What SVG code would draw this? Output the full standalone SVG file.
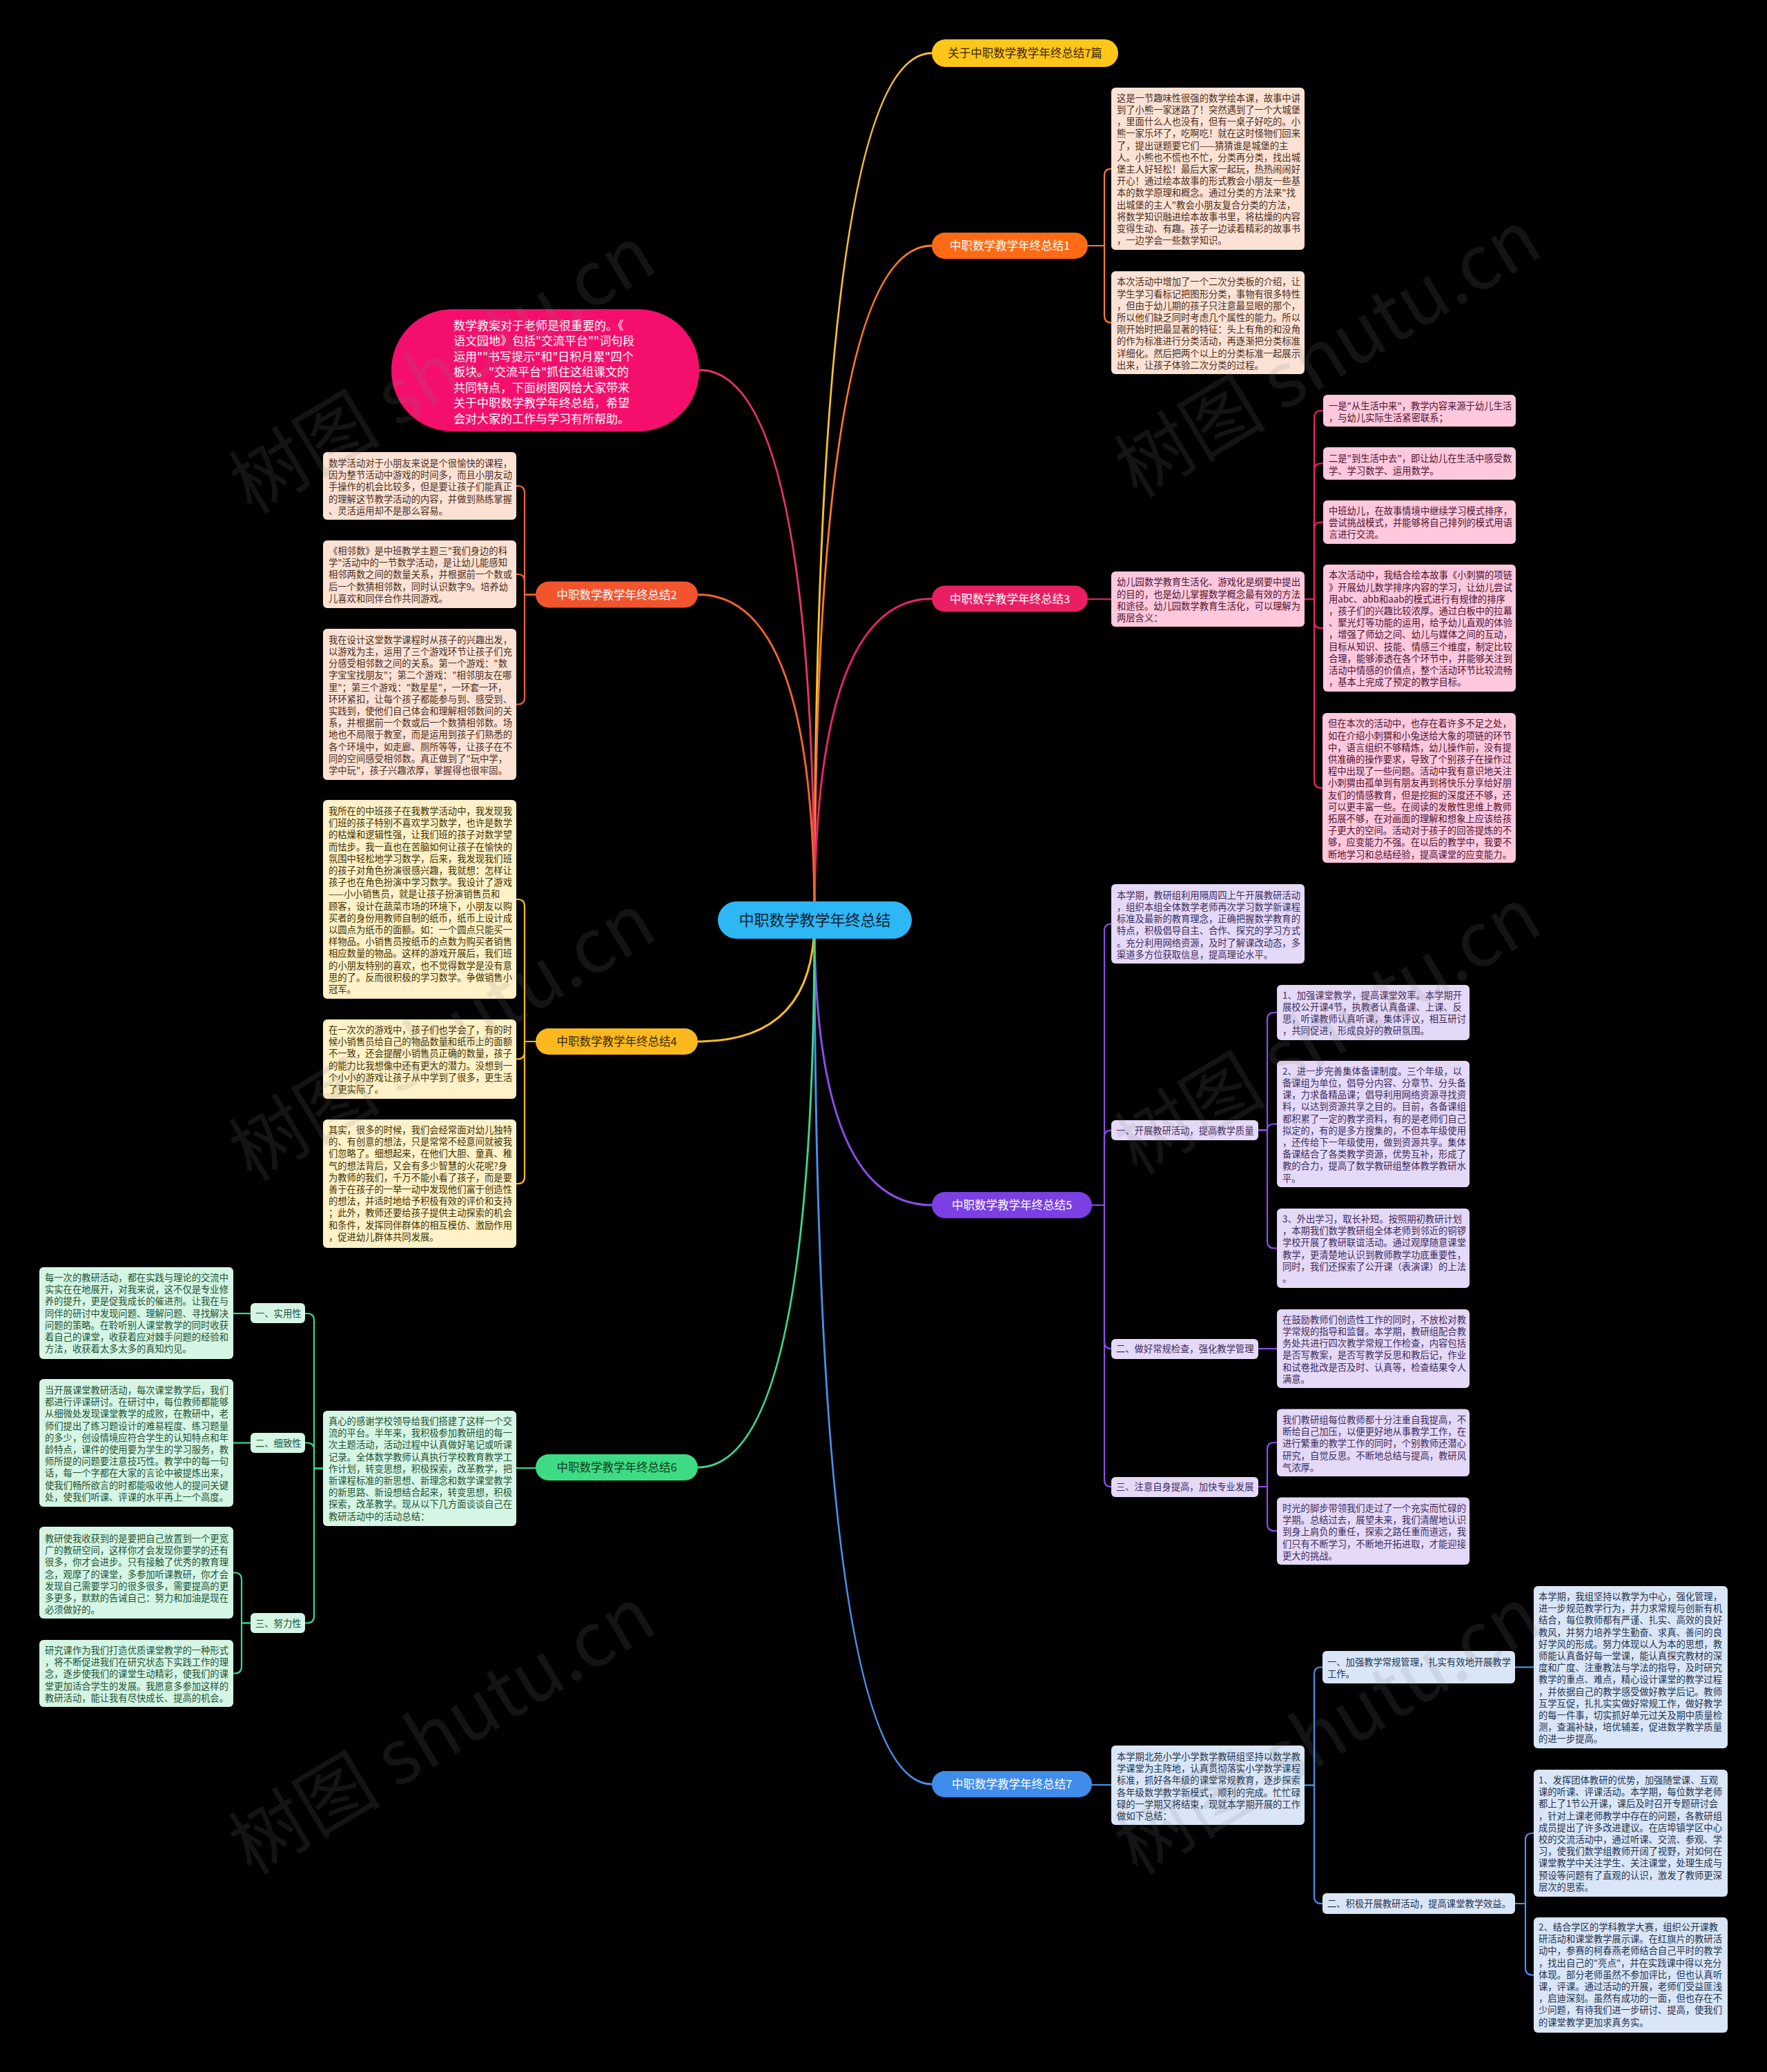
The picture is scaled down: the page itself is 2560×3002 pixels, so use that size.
<svg xmlns="http://www.w3.org/2000/svg" width="2560" height="3002" viewBox="0 0 2560 3002">
<defs>
<style>
text{font-family:"Noto Sans CJK SC","Noto Sans",sans-serif;}
.bx{font-size:13.3px;}
.mn{font-size:16.5px;text-anchor:middle;}
.wm{font-family:"Liberation Serif","Noto Sans CJK SC",serif;font-size:110px;fill:#808080;opacity:.16;text-anchor:middle;}
.lk{fill:none;stroke-width:2.2;}
.br{fill:none;stroke-width:3;}
.pe rect{fill:#FCE2D4;} .pe text{fill:#4B2E22;}
.pk rect{fill:#FFC8DD;} .pk text{fill:#4D1430;}
.ye rect{fill:#FFF1C8;} .ye text{fill:#3F3200;}
.gr rect{fill:#D5F6E4;} .gr text{fill:#1F5236;}
.lv rect{fill:#E5D9F8;} .lv text{fill:#3B2D5C;}
.bl rect{fill:#D9E6F7;} .bl text{fill:#1F3350;}
</style>
</defs>
<rect width="2560" height="3002" fill="#000"/>

<g id="connectors">
<g class="br">
<path d="M1180,1333 Q1180,77 1350,77" stroke="#F9C22E"/>
<path d="M1180,1333 Q1180,356 1350,356" stroke="#FF7A28"/>
<path d="M1180,1333 Q1180,867.5 1350,867.5" stroke="#E8246C"/>
<path d="M1180,1333 Q1180,1746 1350,1746" stroke="#8A4FE8"/>
<path d="M1180,1333 Q1180,2585 1350,2585" stroke="#4A8FE8"/>
<path d="M1180,1333 Q1180,536 1013,536" stroke="#E8336A"/>
<path d="M1180,1333 Q1180,861.5 1011,861.5" stroke="#F26430"/>
<path d="M1180,1333 Q1180,1509 1011,1509" stroke="#F7BB22"/>
<path d="M1180,1333 Q1180,2126 1011,2126" stroke="#3DD68C"/>
</g>
<g class="lk" stroke="#FF7A28">
<path d="M1576,356 H1600 V254.5 Q1600,244.5 1610,244.5"/>
<path d="M1576,356 H1600 V457.5 Q1600,467.5 1610,467.5"/>
</g>
<g class="lk" stroke="#E8246C">
<path d="M1576,868 H1610"/>
<path d="M1890,868 H1904 V605 Q1904,595 1914,595 H1917"/>
<path d="M1890,868 H1904 V681.5 Q1904,671.5 1914,671.5 H1917"/>
<path d="M1890,868 H1904 V766.5 Q1904,756.5 1914,756.5 H1917"/>
<path d="M1890,868 H1904 V900 Q1904,910 1914,910 H1917"/>
<path d="M1890,868 H1904 V1131.5 Q1904,1141.5 1914,1141.5 H1917"/>
</g>
<g class="lk" stroke="#8A4FE8">
<path d="M1582,1746 H1600 V1348.5 Q1600,1338.5 1610,1338.5"/>
<path d="M1582,1746 H1600 V1647.5 Q1600,1637.5 1610,1637.5"/>
<path d="M1582,1746 H1600 V1944 Q1600,1954 1610,1954"/>
<path d="M1582,1746 H1600 V2144 Q1600,2154 1610,2154"/>
<path d="M1823,1637.5 H1836 V1477 Q1836,1467 1846,1467 H1850"/>
<path d="M1823,1637.5 H1836 Q1836,1628.5 1845,1628.5 H1850"/>
<path d="M1823,1637.5 H1836 V1798.5 Q1836,1808.5 1846,1808.5 H1850"/>
<path d="M1823,1954 H1850"/>
<path d="M1823,2154 H1836 V2100 Q1836,2090 1846,2090 H1850"/>
<path d="M1823,2154 H1836 V2208 Q1836,2218 1846,2218 H1850"/>
</g>
<g class="lk" stroke="#4A8FE8">
<path d="M1582,2586 H1610"/>
<path d="M1890,2586.5 H1904 V2425.5 Q1904,2415.5 1914,2415.5 H1916"/>
<path d="M1890,2586.5 H1904 V2748 Q1904,2758 1914,2758 H1916"/>
<path d="M2195,2415.5 H2222"/>
<path d="M2195,2758 H2210 V2666 Q2210,2656 2220,2656 H2222"/>
<path d="M2195,2758 H2210 V2851.5 Q2210,2861.5 2220,2861.5 H2222"/>
</g>
<g class="lk" stroke="#F26430">
<path d="M776,861.5 H760 V714 Q760,704 750,704 H748"/>
<path d="M776,861.5 H760 V842 Q760,832 750,832 H748"/>
<path d="M776,861.5 H760 V1010.5 Q760,1020.5 750,1020.5 H748"/>
</g>
<g class="lk" stroke="#F7BB22">
<path d="M776,1509 H760 V1313 Q760,1303 750,1303 H748"/>
<path d="M776,1509 H760 V1524.5 Q760,1534.5 750,1534.5 H748"/>
<path d="M776,1509 H760 V1705 Q760,1715 750,1715 H748"/>
</g>
<g class="lk" stroke="#3DD68C">
<path d="M776,2127 H748"/>
<path d="M468,2127.5 H455 V1913 Q455,1903 445,1903 H442"/>
<path d="M468,2127.5 H455 V2100.5 Q455,2090.5 445,2090.5 H442"/>
<path d="M468,2127.5 H455 V2341.5 Q455,2351.5 445,2351.5 H442"/>
<path d="M363,1903 H338"/>
<path d="M363,2090.5 H338"/>
<path d="M363,2351.5 H350 V2288.5 Q350,2278.5 340,2278.5 H338"/>
<path d="M363,2351.5 H350 V2414.5 Q350,2424.5 340,2424.5 H338"/>
</g>
</g>

<g id="center"><rect x="1040" y="1306" width="281" height="54" rx="27" fill="#2DB7F5"/><text x="1180.5" y="1341" font-size="22" text-anchor="middle" fill="#10202E">中职数学教学年终总结</text></g>
<g id="title"><rect x="1350" y="57" width="270" height="40" rx="20" fill="#FFC61A"/><text class="mn" x="1485" y="83" fill="#3A2500">关于中职数学教学年终总结7篇</text></g>
<g id="n1"><rect x="1350" y="337" width="226" height="38" rx="19" fill="#FF6B14"/><text class="mn" x="1463" y="362" fill="#fff">中职数学教学年终总结1</text></g>
<g id="n3"><rect x="1350" y="848.5" width="226" height="38" rx="19" fill="#E91E63"/><text class="mn" x="1463" y="873.5" fill="#fff">中职数学教学年终总结3</text></g>
<g id="n5"><rect x="1350" y="1727" width="232" height="38" rx="19" fill="#7B3FE4"/><text class="mn" x="1466" y="1752" fill="#fff">中职数学教学年终总结5</text></g>
<g id="n7"><rect x="1350" y="2566" width="232" height="38" rx="19" fill="#3F8CEB"/><text class="mn" x="1466" y="2591" fill="#fff">中职数学教学年终总结7</text></g>
<g id="n2"><rect x="776" y="842.5" width="235" height="38" rx="19" fill="#F2542D"/><text class="mn" x="893.5" y="867.5" fill="#fff">中职数学教学年终总结2</text></g>
<g id="n4"><rect x="776" y="1490" width="235" height="38" rx="19" fill="#FBB91F"/><text class="mn" x="893.5" y="1515" fill="#3A2A00">中职数学教学年终总结4</text></g>
<g id="n6"><rect x="776" y="2107" width="235" height="38" rx="19" fill="#3DDC84"/><text class="mn" x="893.5" y="2132" fill="#0E3A22">中职数学教学年终总结6</text></g>

<g id="note"><rect x="567" y="448" width="446" height="177" rx="88" fill="#F50F6C"/><text font-size="17" fill="#fff"><tspan x="657" y="477.7">数学教案对于老师是很重要的。《</tspan><tspan x="657" dy="22.5">语文园地》包括"交流平台""词句段</tspan><tspan x="657" dy="22.5">运用""书写提示"和"日积月累"四个</tspan><tspan x="657" dy="22.5">板块。"交流平台"抓住这组课文的</tspan><tspan x="657" dy="22.5">共同特点，下面树图网给大家带来</tspan><tspan x="657" dy="22.5">关于中职数学教学年终总结，希望</tspan><tspan x="657" dy="22.5">会对大家的工作与学习有所帮助。</tspan></text></g>

<g id="n1-1" class="pe"><rect x="1610" y="127" width="280" height="235" rx="6"/><text class="bx"><tspan x="1618" y="146.7">这是一节趣味性很强的数学绘本课，故事中讲</tspan><tspan x="1618" dy="17.2">到了小熊一家迷路了！突然遇到了一个大城堡</tspan><tspan x="1618" dy="17.2">，里面什么人也没有，但有一桌子好吃的。小</tspan><tspan x="1618" dy="17.2">熊一家乐坏了，吃啊吃！就在这时怪物们回来</tspan><tspan x="1618" dy="17.2">了，提出谜题要它们——猜猜谁是城堡的主</tspan><tspan x="1618" dy="17.2">人。小熊也不慌也不忙，分类再分类，找出城</tspan><tspan x="1618" dy="17.2">堡主人好轻松！最后大家一起玩，热热闹闹好</tspan><tspan x="1618" dy="17.2">开心！通过绘本故事的形式教会小朋友一些基</tspan><tspan x="1618" dy="17.2">本的数学原理和概念。通过分类的方法来"找</tspan><tspan x="1618" dy="17.2">出城堡的主人"教会小朋友复合分类的方法，</tspan><tspan x="1618" dy="17.2">将数学知识融进绘本故事书里，将枯燥的内容</tspan><tspan x="1618" dy="17.2">变得生动、有趣。孩子一边读着精彩的故事书</tspan><tspan x="1618" dy="17.2">，一边学会一些数学知识。</tspan></text></g>
<g id="n1-2" class="pe"><rect x="1610" y="393" width="280" height="149" rx="6"/><text class="bx"><tspan x="1618" y="413.3">本次活动中增加了一个二次分类板的介绍，让</tspan><tspan x="1618" dy="17.2">学生学习看标记把图形分类，事物有很多特性</tspan><tspan x="1618" dy="17.2">，但由于幼儿期的孩子只注意最显眼的那个，</tspan><tspan x="1618" dy="17.2">所以他们缺乏同时考虑几个属性的能力。所以</tspan><tspan x="1618" dy="17.2">刚开始时把最显著的特征：头上有角的和没角</tspan><tspan x="1618" dy="17.2">的作为标准进行分类活动，再逐渐把分类标准</tspan><tspan x="1618" dy="17.2">详细化。然后把两个以上的分类标准一起展示</tspan><tspan x="1618" dy="17.2">出来，让孩子体验二次分类的过程。</tspan></text></g>

<g id="n3-0" class="pk"><rect x="1610" y="828" width="280" height="80" rx="6"/><text class="bx"><tspan x="1618" y="848.3">幼儿园数学教育生活化、游戏化是纲要中提出</tspan><tspan x="1618" dy="17.2">的目的，也是幼儿掌握数学概念最有效的方法</tspan><tspan x="1618" dy="17.2">和途径。幼儿园数学教育生活化，可以理解为</tspan><tspan x="1618" dy="17.2">两层含义：</tspan></text></g>
<g id="n3-1" class="pk"><rect x="1917" y="572" width="279" height="46" rx="6"/><text class="bx"><tspan x="1925" y="592.7">一是"从生活中来"，教学内容来源于幼儿生活</tspan><tspan x="1925" dy="17.2">，与幼儿实际生活紧密联系；</tspan></text></g>
<g id="n3-2" class="pk"><rect x="1917" y="648" width="279" height="47" rx="6"/><text class="bx"><tspan x="1925" y="669.3">二是"到生活中去"，即让幼儿在生活中感受数</tspan><tspan x="1925" dy="17.2">学、学习数学、运用数学。</tspan></text></g>
<g id="n3-3" class="pk"><rect x="1917" y="725" width="279" height="63" rx="6"/><text class="bx"><tspan x="1925" y="745">中班幼儿，在故事情境中继续学习模式排序，</tspan><tspan x="1925" dy="17.2">尝试挑战模式，并能够将自己排列的模式用语</tspan><tspan x="1925" dy="17.2">言进行交流。</tspan></text></g>
<g id="n3-4" class="pk"><rect x="1917" y="818" width="279" height="184" rx="6"/><text class="bx"><tspan x="1925" y="838.3">本次活动中，我结合绘本故事《小刺猬的项链</tspan><tspan x="1925" dy="17.2">》开展幼儿数学排序内容的学习，让幼儿尝试</tspan><tspan x="1925" dy="17.2">用abc、abb和aab的模式进行有规律的排序</tspan><tspan x="1925" dy="17.2">，孩子们的兴趣比较浓厚。通过白板中的拉幕</tspan><tspan x="1925" dy="17.2">、聚光灯等功能的运用，给予幼儿直观的体验</tspan><tspan x="1925" dy="17.2">，增强了师幼之间、幼儿与媒体之间的互动，</tspan><tspan x="1925" dy="17.2">目标从知识、技能、情感三个维度，制定比较</tspan><tspan x="1925" dy="17.2">合理，能够渗透在各个环节中，并能够关注到</tspan><tspan x="1925" dy="17.2">活动中情感的价值点，整个活动环节比较流畅</tspan><tspan x="1925" dy="17.2">，基本上完成了预定的教学目标。</tspan></text></g>
<g id="n3-5" class="pk"><rect x="1916" y="1033" width="280" height="217" rx="6"/><text class="bx"><tspan x="1924" y="1053.3">但在本次的活动中，也存在着许多不足之处，</tspan><tspan x="1924" dy="17.2">如在介绍小刺猬和小兔送给大象的项链的环节</tspan><tspan x="1924" dy="17.2">中，语言组织不够精炼，幼儿操作前，没有提</tspan><tspan x="1924" dy="17.2">供准确的操作要求，导致了个别孩子在操作过</tspan><tspan x="1924" dy="17.2">程中出现了一些问题。活动中我有意识地关注</tspan><tspan x="1924" dy="17.2">小刺猬由孤单到有朋友再到将快乐分享给好朋</tspan><tspan x="1924" dy="17.2">友们的情感教育，但是挖掘的深度还不够，还</tspan><tspan x="1924" dy="17.2">可以更丰富一些。在阅读的发散性思维上教师</tspan><tspan x="1924" dy="17.2">拓展不够，在对画面的理解和想象上应该给孩</tspan><tspan x="1924" dy="17.2">子更大的空间。活动对于孩子的回答提炼的不</tspan><tspan x="1924" dy="17.2">够，应变能力不强。在以后的教学中，我要不</tspan><tspan x="1924" dy="17.2">断地学习和总结经验，提高课堂的应变能力。</tspan></text></g>

<g id="n2-1" class="pe"><rect x="468" y="655" width="280" height="98" rx="6"/><text class="bx"><tspan x="476" y="676">数学活动对于小朋友来说是个很愉快的课程，</tspan><tspan x="476" dy="17.2">因为整节活动中游戏的时间多，而且小朋友动</tspan><tspan x="476" dy="17.2">手操作的机会比较多，但是要让孩子们能真正</tspan><tspan x="476" dy="17.2">的理解这节教学活动的内容，并做到熟练掌握</tspan><tspan x="476" dy="17.2">、灵活运用却不是那么容易。</tspan></text></g>
<g id="n2-2" class="pe"><rect x="468" y="783" width="280" height="98" rx="6"/><text class="bx"><tspan x="476" y="803">《相邻数》是中班教学主题三"我们身边的科</tspan><tspan x="476" dy="17.2">学"活动中的一节数学活动，是让幼儿能感知</tspan><tspan x="476" dy="17.2">相邻两数之间的数量关系，并根据前一个数或</tspan><tspan x="476" dy="17.2">后一个数猜相邻数，同时认识数字9。培养幼</tspan><tspan x="476" dy="17.2">儿喜欢和同伴合作共同游戏。</tspan></text></g>
<g id="n2-3" class="pe"><rect x="468" y="911" width="280" height="219" rx="6"/><text class="bx"><tspan x="476" y="931.7">我在设计这堂数学课程时从孩子的兴趣出发，</tspan><tspan x="476" dy="17.2">以游戏为主，运用了三个游戏环节让孩子们充</tspan><tspan x="476" dy="17.2">分感受相邻数之间的关系。第一个游戏："数</tspan><tspan x="476" dy="17.2">字宝宝找朋友"；第二个游戏："相邻朋友在哪</tspan><tspan x="476" dy="17.2">里"；第三个游戏："数星星"，一环套一环，</tspan><tspan x="476" dy="17.2">环环紧扣，让每个孩子都能参与到、感受到、</tspan><tspan x="476" dy="17.2">实践到，使他们自己体会和理解相邻数间的关</tspan><tspan x="476" dy="17.2">系，并根据前一个数或后一个数猜相邻数。场</tspan><tspan x="476" dy="17.2">地也不局限于教室，而是运用到孩子们熟悉的</tspan><tspan x="476" dy="17.2">各个环境中，如走廊、厕所等等，让孩子在不</tspan><tspan x="476" dy="17.2">同的空间感受相邻数。真正做到了"玩中学，</tspan><tspan x="476" dy="17.2">学中玩"，孩子兴趣浓厚，掌握得也很牢固。</tspan></text></g>

<g id="n4-1" class="ye"><rect x="468" y="1159" width="280" height="288" rx="6"/><text class="bx"><tspan x="476" y="1180">我所在的中班孩子在我教学活动中，我发现我</tspan><tspan x="476" dy="17.2">们班的孩子特别不喜欢学习数学，也许是数学</tspan><tspan x="476" dy="17.2">的枯燥和逻辑性强，让我们班的孩子对数学望</tspan><tspan x="476" dy="17.2">而怯步。我一直也在苦脑如何让孩子在愉快的</tspan><tspan x="476" dy="17.2">氛围中轻松地学习数学，后来，我发现我们班</tspan><tspan x="476" dy="17.2">的孩子对角色扮演很感兴趣，我就想：怎样让</tspan><tspan x="476" dy="17.2">孩子也在角色扮演中学习数学。我设计了游戏</tspan><tspan x="476" dy="17.2">——小小销售员，就是让孩子扮演销售员和</tspan><tspan x="476" dy="17.2">顾客，设计在蔬菜市场的环境下，小朋友以购</tspan><tspan x="476" dy="17.2">买者的身份用教师自制的纸币，纸币上设计成</tspan><tspan x="476" dy="17.2">以圆点为纸币的面额。如：一个圆点只能买一</tspan><tspan x="476" dy="17.2">样物品。小销售员按纸币的点数为购买者销售</tspan><tspan x="476" dy="17.2">相应数量的物品。这样的游戏开展后，我们班</tspan><tspan x="476" dy="17.2">的小朋友特别的喜欢，也不觉得数学是没有意</tspan><tspan x="476" dy="17.2">思的了。反而很积极的学习数学。争做销售小</tspan><tspan x="476" dy="17.2">冠军。</tspan></text></g>
<g id="n4-2" class="ye"><rect x="468" y="1477" width="280" height="115" rx="6"/><text class="bx"><tspan x="476" y="1497">在一次次的游戏中，孩子们也学会了，有的时</tspan><tspan x="476" dy="17.2">候小销售员给自己的物品数量和纸币上的面额</tspan><tspan x="476" dy="17.2">不一致，还会提醒小销售员正确的数量，孩子</tspan><tspan x="476" dy="17.2">的能力比我想像中还有更大的潜力。没想到一</tspan><tspan x="476" dy="17.2">个小小的游戏让孩子从中学到了很多，更生活</tspan><tspan x="476" dy="17.2">了更实际了。</tspan></text></g>
<g id="n4-3" class="ye"><rect x="468" y="1622" width="280" height="186" rx="6"/><text class="bx"><tspan x="476" y="1642">其实，很多的时候，我们会经常面对幼儿独特</tspan><tspan x="476" dy="17.2">的、有创意的想法，只是常常不经意间就被我</tspan><tspan x="476" dy="17.2">们忽略了。细想起来，在他们大胆、童真、稚</tspan><tspan x="476" dy="17.2">气的想法背后，又会有多少智慧的火花呢?身</tspan><tspan x="476" dy="17.2">为教师的我们，千万不能小看了孩子，而是要</tspan><tspan x="476" dy="17.2">善于在孩子的一举一动中发现他们富于创造性</tspan><tspan x="476" dy="17.2">的想法，并适时地给予积极有效的评价和支持</tspan><tspan x="476" dy="17.2">；此外，教师还要给孩子提供主动探索的机会</tspan><tspan x="476" dy="17.2">和条件，发挥同伴群体的相互模仿、激励作用</tspan><tspan x="476" dy="17.2">，促进幼儿群体共同发展。</tspan></text></g>

<g id="n6-0" class="gr"><rect x="468" y="2044" width="280" height="167" rx="6"/><text class="bx"><tspan x="476" y="2064">真心的感谢学校领导给我们搭建了这样一个交</tspan><tspan x="476" dy="17.2">流的平台。半年来，我积极参加教研组的每一</tspan><tspan x="476" dy="17.2">次主题活动，活动过程中认真做好笔记或听课</tspan><tspan x="476" dy="17.2">记录。全体数学教师认真执行学校教育教学工</tspan><tspan x="476" dy="17.2">作计划，转变思想，积极探索，改革教学，把</tspan><tspan x="476" dy="17.2">新课程标准的新思想、新理念和数学课堂教学</tspan><tspan x="476" dy="17.2">的新思路、新设想结合起来，转变思想，积极</tspan><tspan x="476" dy="17.2">探索，改革教学。现从以下几方面谈谈自己在</tspan><tspan x="476" dy="17.2">教研活动中的活动总结：</tspan></text></g>
<g id="n6-l1" class="gr"><rect x="363" y="1888" width="79" height="29" rx="6"/><text class="bx" x="370" y="1908">一、实用性</text></g>
<g id="n6-l2" class="gr"><rect x="363" y="2076" width="79" height="29" rx="6"/><text class="bx" x="370" y="2095.5">二、细致性</text></g>
<g id="n6-l3" class="gr"><rect x="363" y="2337" width="79" height="29" rx="6"/><text class="bx" x="370" y="2356.5">三、努力性</text></g>
<g id="n6-1" class="gr"><rect x="57" y="1836" width="281" height="133" rx="6"/><text class="bx"><tspan x="65" y="1856">每一次的教研活动，都在实践与理论的交流中</tspan><tspan x="65" dy="17.2">实实在在地展开，对我来说，这不仅是专业修</tspan><tspan x="65" dy="17.2">养的提升，更是促我成长的催进剂。让我在与</tspan><tspan x="65" dy="17.2">同伴的研讨中发现问题、理解问题、寻找解决</tspan><tspan x="65" dy="17.2">问题的策略。在聆听别人课堂教学的同时收获</tspan><tspan x="65" dy="17.2">着自己的课堂，收获着应对棘手问题的经验和</tspan><tspan x="65" dy="17.2">方法，收获着太多太多的真知灼见。</tspan></text></g>
<g id="n6-2" class="gr"><rect x="57" y="1998" width="281" height="185" rx="6"/><text class="bx"><tspan x="65" y="2019">当开展课堂教研活动，每次课堂教学后，我们</tspan><tspan x="65" dy="17.2">都进行评课研讨。在研讨中，每位教师都能够</tspan><tspan x="65" dy="17.2">从细微处发现课堂教学的成败，在教研中，老</tspan><tspan x="65" dy="17.2">师们提出了练习题设计的难易程度、练习题量</tspan><tspan x="65" dy="17.2">的多少，创设情境应符合学生的认知特点和年</tspan><tspan x="65" dy="17.2">龄特点，课件的使用要为学生的学习服务，教</tspan><tspan x="65" dy="17.2">师所提的问题要注意技巧性。教学中的每一句</tspan><tspan x="65" dy="17.2">话，每一个字都在大家的言论中被提炼出来，</tspan><tspan x="65" dy="17.2">使我们畅所欲言的时都能吸收他人的提问关键</tspan><tspan x="65" dy="17.2">处，使我们听课、评课的水平再上一个高度。</tspan></text></g>
<g id="n6-3" class="gr"><rect x="57" y="2212" width="281" height="133" rx="6"/><text class="bx"><tspan x="65" y="2234">教研使我收获到的是要把自己放置到一个更宽</tspan><tspan x="65" dy="17.2">广的教研空间，这样你才会发现你要学的还有</tspan><tspan x="65" dy="17.2">很多，你才会进步。只有接触了优秀的教育理</tspan><tspan x="65" dy="17.2">念，观摩了的课堂，多参加听课教研，你才会</tspan><tspan x="65" dy="17.2">发现自己需要学习的很多很多，需要提高的更</tspan><tspan x="65" dy="17.2">多更多，默默的告诫自己：努力和加油是现在</tspan><tspan x="65" dy="17.2">必须做好的。</tspan></text></g>
<g id="n6-4" class="gr"><rect x="57" y="2376" width="281" height="97" rx="6"/><text class="bx"><tspan x="65" y="2396">研究课作为我们打造优质课堂教学的一种形式</tspan><tspan x="65" dy="17.2">，将不断促进我们在研究状态下实践工作的理</tspan><tspan x="65" dy="17.2">念，逐步使我们的课堂生动精彩，使我们的课</tspan><tspan x="65" dy="17.2">堂更加适合学生的发展。我愿意多参加这样的</tspan><tspan x="65" dy="17.2">教研活动，能让我有尽快成长、提高的机会。</tspan></text></g>

<g id="n5-0" class="lv"><rect x="1610" y="1281" width="280" height="115" rx="6"/><text class="bx"><tspan x="1618" y="1301.7">本学期，教研组利用隔周四上午开展教研活动</tspan><tspan x="1618" dy="17.2">，组织本组全体数学老师再次学习数学新课程</tspan><tspan x="1618" dy="17.2">标准及最新的教育理念，正确把握数学教育的</tspan><tspan x="1618" dy="17.2">特点，积极倡导自主、合作、探究的学习方式</tspan><tspan x="1618" dy="17.2">。充分利用网络资源，及时了解课改动态，多</tspan><tspan x="1618" dy="17.2">渠道多方位获取信息，提高理论水平。</tspan></text></g>
<g id="n5-l1" class="lv"><rect x="1610" y="1623" width="213" height="29" rx="6"/><text class="bx" x="1617" y="1642.5">一、开展教研活动，提高教学质量</text></g>
<g id="n5-l2" class="lv"><rect x="1610" y="1940" width="213" height="29" rx="6"/><text class="bx" x="1617" y="1959">二、做好常规检查，强化教学管理</text></g>
<g id="n5-l3" class="lv"><rect x="1610" y="2140" width="213" height="29" rx="6"/><text class="bx" x="1617" y="2159">三、注意自身提高，加快专业发展</text></g>
<g id="n5-1" class="lv"><rect x="1850" y="1427" width="279" height="80" rx="6"/><text class="bx"><tspan x="1858" y="1446.7">1、加强课堂教学，提高课堂效率。本学期开</tspan><tspan x="1858" dy="17.2">展校公开课4节，执教者认真备课、上课、反</tspan><tspan x="1858" dy="17.2">思，听课教师认真听课，集体评议，相互研讨</tspan><tspan x="1858" dy="17.2">，共同促进，形成良好的教研氛围。</tspan></text></g>
<g id="n5-2" class="lv"><rect x="1850" y="1537" width="279" height="183" rx="6"/><text class="bx"><tspan x="1858" y="1556.7">2、进一步完善集体备课制度。三个年级，以</tspan><tspan x="1858" dy="17.2">备课组为单位，倡导分内容、分章节、分头备</tspan><tspan x="1858" dy="17.2">课，力求备精品课；倡导利用网络资源寻找资</tspan><tspan x="1858" dy="17.2">料，以达到资源共享之目的。目前，各备课组</tspan><tspan x="1858" dy="17.2">都积累了一定的教学资料，有的是老师们自己</tspan><tspan x="1858" dy="17.2">拟定的，有的是多方搜集的，不但本年级使用</tspan><tspan x="1858" dy="17.2">，还传给下一年级使用，做到资源共享。集体</tspan><tspan x="1858" dy="17.2">备课结合了各类教学资源，优势互补，形成了</tspan><tspan x="1858" dy="17.2">教的合力，提高了数学教研组整体教学教研水</tspan><tspan x="1858" dy="17.2">平。</tspan></text></g>
<g id="n5-3" class="lv"><rect x="1850" y="1751" width="279" height="115" rx="6"/><text class="bx"><tspan x="1858" y="1771">3、外出学习，取长补短。按照期初教研计划</tspan><tspan x="1858" dy="17.2">，本期我们数学教研组全体老师到邻近的铜锣</tspan><tspan x="1858" dy="17.2">学校开展了教研联谊活动。通过观摩随意课堂</tspan><tspan x="1858" dy="17.2">教学，更清楚地认识到教师教学功底重要性，</tspan><tspan x="1858" dy="17.2">同时，我们还探索了公开课（表演课）的上法</tspan><tspan x="1858" dy="17.2">。</tspan></text></g>
<g id="n5-4" class="lv"><rect x="1850" y="1897" width="279" height="114" rx="6"/><text class="bx"><tspan x="1858" y="1916.7">在鼓励教师们创造性工作的同时，不放松对教</tspan><tspan x="1858" dy="17.2">学常规的指导和监督。本学期，教研组配合教</tspan><tspan x="1858" dy="17.2">务处共进行四次教学常规工作检查，内容包括</tspan><tspan x="1858" dy="17.2">是否写教案，是否写教学反思和教后记，作业</tspan><tspan x="1858" dy="17.2">和试卷批改是否及时、认真等，检查结果令人</tspan><tspan x="1858" dy="17.2">满意。</tspan></text></g>
<g id="n5-5" class="lv"><rect x="1850" y="2041.5" width="279" height="97.5" rx="6"/><text class="bx"><tspan x="1858" y="2062">我们教研组每位教师都十分注重自我提高，不</tspan><tspan x="1858" dy="17.2">断给自己加压，以便更好地从事教学工作，在</tspan><tspan x="1858" dy="17.2">进行繁重的教学工作的同时，个别教师还潜心</tspan><tspan x="1858" dy="17.2">研究，自觉反思。不断地总结与提高，教研风</tspan><tspan x="1858" dy="17.2">气浓厚。</tspan></text></g>
<g id="n5-6" class="lv"><rect x="1850" y="2169.5" width="279" height="97.5" rx="6"/><text class="bx"><tspan x="1858" y="2190">时光的脚步带领我们走过了一个充实而忙碌的</tspan><tspan x="1858" dy="17.2">学期。总结过去，展望未来，我们清醒地认识</tspan><tspan x="1858" dy="17.2">到身上肩负的重任，探索之路任重而道远，我</tspan><tspan x="1858" dy="17.2">们只有不断学习，不断地开拓进取，才能迎接</tspan><tspan x="1858" dy="17.2">更大的挑战。</tspan></text></g>

<g id="n7-0" class="bl"><rect x="1610" y="2529" width="280" height="115" rx="6"/><text class="bx"><tspan x="1618" y="2550">本学期北苑小学小学数学教研组坚持以数学教</tspan><tspan x="1618" dy="17.2">学课堂为主阵地，认真贯彻落实小学数学课程</tspan><tspan x="1618" dy="17.2">标准，抓好各年级的课堂常规教育，逐步探索</tspan><tspan x="1618" dy="17.2">各年级数学教学新模式，顺利的完成。忙忙碌</tspan><tspan x="1618" dy="17.2">碌的一学期又将结束，现就本学期开展的工作</tspan><tspan x="1618" dy="17.2">做如下总结：</tspan></text></g>
<g id="n7-l1" class="bl"><rect x="1916" y="2392" width="279" height="47" rx="6"/><text class="bx"><tspan x="1923" y="2413">一、加强教学常规管理，扎实有效地开展教学</tspan><tspan x="1923" dy="17.2">工作。</tspan></text></g>
<g id="n7-l2" class="bl"><rect x="1916" y="2743" width="279" height="30" rx="6"/><text class="bx" x="1923" y="2763">二、积极开展教研活动，提高课堂教学效益。</text></g>
<g id="n7-1" class="bl"><rect x="2222" y="2298" width="281" height="235" rx="6"/><text class="bx"><tspan x="2229" y="2318">本学期，我组坚持以教学为中心，强化管理，</tspan><tspan x="2229" dy="17.2">进一步规范教学行为，并力求常规与创新有机</tspan><tspan x="2229" dy="17.2">结合，每位教师都有严谨、扎实、高效的良好</tspan><tspan x="2229" dy="17.2">教风，并努力培养学生勤奋、求真、善问的良</tspan><tspan x="2229" dy="17.2">好学风的形成。努力体现以人为本的思想，教</tspan><tspan x="2229" dy="17.2">师能认真备好每一堂课，能认真探究教材的深</tspan><tspan x="2229" dy="17.2">度和广度、注重教法与学法的指导，及时研究</tspan><tspan x="2229" dy="17.2">教学的重点、难点，精心设计课堂的教学过程</tspan><tspan x="2229" dy="17.2">，并依据自己的教学感受做好教学后记。教师</tspan><tspan x="2229" dy="17.2">互学互促，扎扎实实做好常规工作，做好教学</tspan><tspan x="2229" dy="17.2">的每一件事，切实抓好单元过关及期中质量检</tspan><tspan x="2229" dy="17.2">测，查漏补缺，培优辅差，促进数学教学质量</tspan><tspan x="2229" dy="17.2">的进一步提高。</tspan></text></g>
<g id="n7-2" class="bl"><rect x="2222" y="2564" width="281" height="184" rx="6"/><text class="bx"><tspan x="2229" y="2584">1、发挥团体教研的优势，加强随堂课、互观</tspan><tspan x="2229" dy="17.2">课的听课、评课活动。本学期，每位数学老师</tspan><tspan x="2229" dy="17.2">都上了1节公开课，课后及时召开专题研讨会</tspan><tspan x="2229" dy="17.2">，针对上课老师教学中存在的问题，各教研组</tspan><tspan x="2229" dy="17.2">成员提出了许多改进建议。在店埠镇学区中心</tspan><tspan x="2229" dy="17.2">校的交流活动中，通过听课、交流、参观、学</tspan><tspan x="2229" dy="17.2">习，使我们数学组教师开阔了视野，对如何在</tspan><tspan x="2229" dy="17.2">课堂教学中关注学生、关注课堂，处理生成与</tspan><tspan x="2229" dy="17.2">预设等问题有了直观的认识，激发了教师更深</tspan><tspan x="2229" dy="17.2">层次的思索。</tspan></text></g>
<g id="n7-3" class="bl"><rect x="2222" y="2778" width="281" height="167" rx="6"/><text class="bx"><tspan x="2229" y="2797">2、结合学区的学科教学大赛，组织公开课教</tspan><tspan x="2229" dy="17.2">研活动和课堂教学展示课。在红旗片的教研活</tspan><tspan x="2229" dy="17.2">动中，参赛的柯春燕老师结合自己平时的教学</tspan><tspan x="2229" dy="17.2">，找出自己的"亮点"，并在实践课中得以充分</tspan><tspan x="2229" dy="17.2">体现。部分老师虽然不参加评比，但也认真听</tspan><tspan x="2229" dy="17.2">课，评课。通过活动的开展，老师们受益匪浅</tspan><tspan x="2229" dy="17.2">，启迪深刻。虽然有成功的一面，但也存在不</tspan><tspan x="2229" dy="17.2">少问题，有待我们进一步研讨、提高，使我们</tspan><tspan x="2229" dy="17.2">的课堂教学更加求真务实。</tspan></text></g>

<g id="watermarks" class="wm">
<text transform="translate(641,536) rotate(-31)" y="38">树图 shutu.cn</text>
<text transform="translate(1924,513) rotate(-31)" y="38">树图 shutu.cn</text>
<text transform="translate(641,1503) rotate(-31)" y="38">树图 shutu.cn</text>
<text transform="translate(1924,1494) rotate(-31)" y="38">树图 shutu.cn</text>
<text transform="translate(641,2508) rotate(-31)" y="38">树图 shutu.cn</text>
<text transform="translate(1924,2508) rotate(-31)" y="38">树图 shutu.cn</text>
</g>
</svg>
